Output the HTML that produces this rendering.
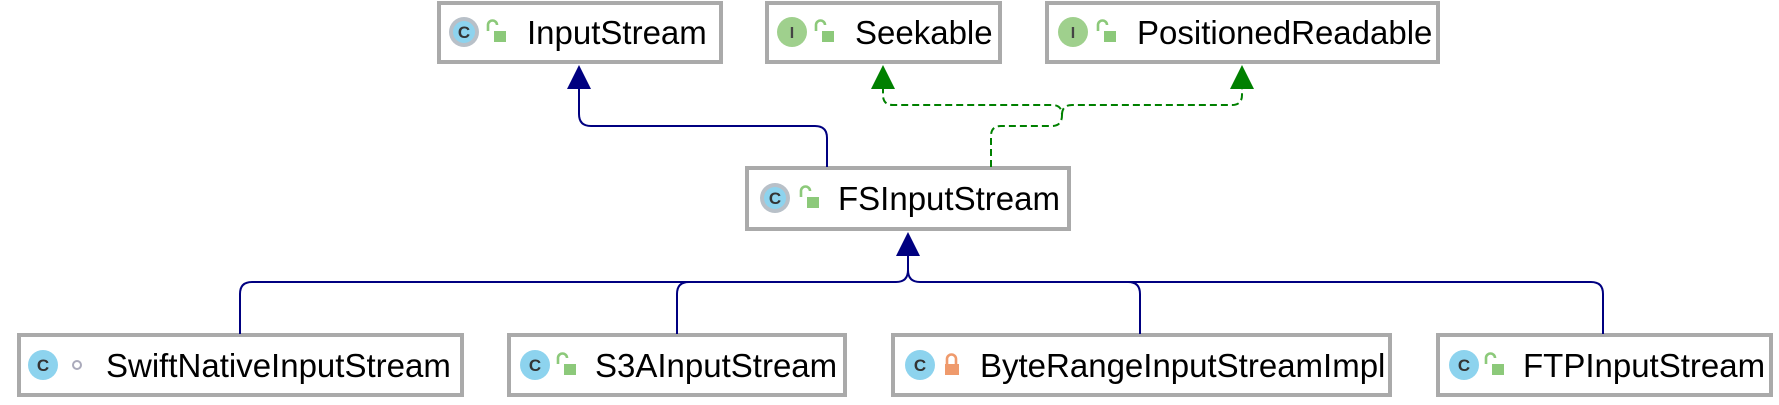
<!DOCTYPE html>
<html><head><meta charset="utf-8"><style>
html,body{margin:0;padding:0;background:#fff;width:1779px;height:405px;overflow:hidden}
svg text{font-family:"Liberation Sans",sans-serif}
</style></head><body>
<svg width="1779" height="405" xmlns="http://www.w3.org/2000/svg">
<defs>
<g id="lockg"><path d="M-7,-1 v-6 a4.5,4.5 0 0 1 9,0" fill="none" stroke="#8cc97a" stroke-width="2.6"/><rect x="-1" y="-1" width="12" height="11" fill="#8cc97a"/></g>
<g id="lockr"><path d="M-3,-1 v-5 a4.5,4.5 0 0 1 9,0 v5" fill="none" stroke="#ef9a6c" stroke-width="2.6"/><rect x="-5" y="-1" width="14" height="11" fill="#ef9a6c"/></g>
</defs>
<!-- boxes -->
<g fill="#fff" stroke="#aaa" stroke-width="4">
<rect x="439" y="3" width="282" height="59"/>
<rect x="767" y="3" width="233" height="59"/>
<rect x="1047" y="3" width="391" height="59"/>
<rect x="747" y="168" width="322" height="61"/>
<rect x="19" y="335" width="443" height="60"/>
<rect x="509" y="335" width="336" height="60"/>
<rect x="893" y="335" width="497" height="60"/>
<rect x="1438" y="335" width="333" height="60"/>
</g>
<!-- blue connectors -->
<g fill="none" stroke="#000080" stroke-width="2">
<path d="M827,167 V138 Q827,126 815,126 H591 Q579,126 579,114 V88"/>
<path d="M908,256 V270 Q908,282 896,282 H252 Q240,282 240,294 V334"/>
<path d="M908,270 Q908,282 920,282 H1591 Q1603,282 1603,294 V334"/>
<path d="M689,282 Q677,282 677,294 V334"/>
<path d="M1128,282 Q1140,282 1140,294 V334"/>
</g>
<g fill="#000080">
<polygon points="579,65 567,89 591,89"/>
<polygon points="908,232 896,256 920,256"/>
</g>
<!-- green dashed -->
<g fill="none" stroke="#008000" stroke-width="2" stroke-dasharray="7,4">
<path d="M991,167 V136 Q991,126 1001,126 H1052 Q1062,126 1062,115 Q1062,105 1052,105 H893 Q883,105 883,95 V88"/>
<path d="M1062,115 Q1062,105 1072,105 H1232 Q1242,105 1242,95 V88"/>
</g>
<g fill="#008000">
<polygon points="883,65 871,89 895,89"/>
<polygon points="1242,65 1230,89 1254,89"/>
</g>
<!-- icons -->
<g font-weight="bold">
<circle cx="464" cy="32" r="15" fill="#b8c0c8"/><circle cx="464" cy="32" r="11" fill="#8dd3ee"/><text x="464" y="38" font-size="17" text-anchor="middle" fill="#333">C</text>
<use href="#lockg" x="495" y="32"/>
<circle cx="792" cy="32" r="15" fill="#9fd08d"/><text x="792" y="38" font-size="16" text-anchor="middle" fill="#444" font-family="Liberation Mono">I</text>
<use href="#lockg" x="823" y="32"/>
<circle cx="1073" cy="32" r="15" fill="#9fd08d"/><text x="1073" y="38" font-size="16" text-anchor="middle" fill="#444">I</text>
<use href="#lockg" x="1105" y="32"/>
<circle cx="775" cy="198" r="15" fill="#b8c0c8"/><circle cx="775" cy="198" r="11" fill="#8dd3ee"/><text x="775" y="204" font-size="17" text-anchor="middle" fill="#333">C</text>
<use href="#lockg" x="808" y="198"/>
<circle cx="43" cy="365" r="15" fill="#8dd3ee"/><text x="43" y="371" font-size="17" text-anchor="middle" fill="#333">C</text>
<circle cx="77" cy="365" r="4" fill="none" stroke="#aab" stroke-width="2"/>
<circle cx="535" cy="365" r="15" fill="#8dd3ee"/><text x="535" y="371" font-size="17" text-anchor="middle" fill="#333">C</text>
<use href="#lockg" x="565" y="365"/>
<circle cx="920" cy="365" r="15" fill="#8dd3ee"/><text x="920" y="371" font-size="17" text-anchor="middle" fill="#333">C</text>
<use href="#lockr" x="950" y="365"/>
<circle cx="1464" cy="365" r="15" fill="#8dd3ee"/><text x="1464" y="371" font-size="17" text-anchor="middle" fill="#333">C</text>
<use href="#lockg" x="1493" y="365"/>
</g>
<!-- labels -->
<g font-size="33" fill="#000">
<text x="527" y="44">InputStream</text>
<text x="855" y="44">Seekable</text>
<text x="1137" y="44">PositionedReadable</text>
<text x="838" y="210">FSInputStream</text>
<text x="106" y="377">SwiftNativeInputStream</text>
<text x="595" y="377">S3AInputStream</text>
<text x="980" y="377">ByteRangeInputStreamImpl</text>
<text x="1523" y="377">FTPInputStream</text>
</g>
</svg>
</body></html>
